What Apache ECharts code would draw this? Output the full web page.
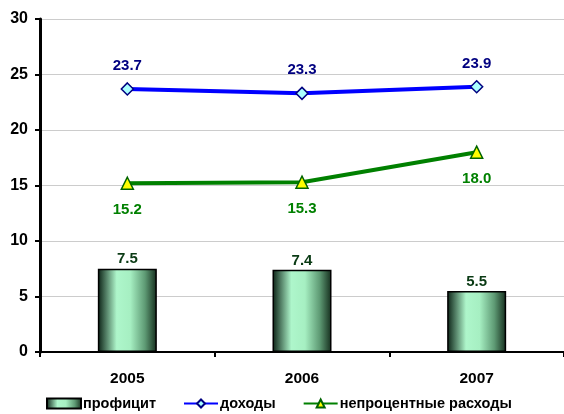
<!DOCTYPE html>
<html>
<head>
<meta charset="utf-8">
<script src="https://cdn.jsdelivr.net/npm/echarts@6/dist/echarts.min.js"></script>
<style>
html,body{margin:0;padding:0;background:#fff;}
#chart{width:564px;height:414px;}
</style>
</head>
<body>
<div id="chart"></div>
<script>
// Budget indicators, % of GDP
var years = ['2005', '2006', '2007'];
var surplus = [7.5, 7.4, 5.5];           // профицит
var revenue = [23.7, 23.3, 23.9];        // доходы
var nonInterestSpend = [15.2, 15.3, 18.0]; // непроцентные расходы
var yTicks = [0, 5, 10, 15, 20, 25, 30];

var FONT = 'Liberation Sans, Arial, sans-serif';
var chart = echarts.init(document.getElementById('chart'));

var barFill = new echarts.graphic.LinearGradient(0, 0, 1, 0, [
  {offset: 0, color: '#0a2014'},
  {offset: 0.32, color: '#aef6cb'},
  {offset: 0.55, color: '#a6efc2'},
  {offset: 0.8, color: '#5e9a74'},
  {offset: 1, color: '#142c1c'}
]);

chart.setOption({
  animation: false,
  backgroundColor: '#ffffff',
  grid: {left: 40, right: 0, top: 19, bottom: 62},
  legend: {
    bottom: -2,
    left: 41,
    itemWidth: 34,
    itemHeight: 10,
    itemGap: 27,
    textStyle: {fontFamily: FONT, fontWeight: 'bold', fontSize: 14.5, color: '#000', padding: [0, 0, 0, -3]},
    data: [
      {name: 'профицит', icon: 'rect'},
      {name: 'доходы'},
      {name: 'непроцентные расходы'}
    ]
  },
  xAxis: {
    type: 'category',
    data: years,
    axisLine: {lineStyle: {color: '#000', width: 2}},
    axisTick: {show: true, length: 5, lineStyle: {color: '#000', width: 2}},
    axisLabel: {margin: 19, fontFamily: FONT, fontWeight: 'bold', fontSize: 15.5, color: '#000'}
  },
  yAxis: {
    type: 'value',
    min: yTicks[0],
    max: yTicks[yTicks.length - 1],
    interval: 5,
    axisLine: {show: true, lineStyle: {color: '#000', width: 3}},
    axisTick: {show: true, length: 5, lineStyle: {color: '#000', width: 2}},
    axisLabel: {margin: 12, fontFamily: FONT, fontWeight: 'bold', fontSize: 16, color: '#000'},
    splitLine: {lineStyle: {color: '#cccccc', width: 1}}
  },
  series: [
    {
      name: 'профицит',
      type: 'bar',
      data: surplus,
      barWidth: 59,
      itemStyle: {color: barFill, borderColor: '#000', borderWidth: 1.5},
      label: {
        show: true, position: 'top', distance: 2,
        fontFamily: FONT, fontWeight: 'bold', fontSize: 15, color: '#0a3a14',
        formatter: function (p) { return p.value.toFixed(1); }
      },
      z: 2
    },
    {
      name: 'доходы',
      type: 'line',
      data: revenue,
      symbol: 'diamond',
      symbolSize: 12,
      lineStyle: {color: '#0000ff', width: 4},
      itemStyle: {color: '#aaffff', borderColor: '#000080', borderWidth: 1.5},
      label: {
        show: true, position: 'top', distance: 9,
        fontFamily: FONT, fontWeight: 'bold', fontSize: 15, color: '#000080',
        formatter: function (p) { return p.value.toFixed(1); }
      },
      z: 4
    },
    {
      name: 'непроцентные расходы',
      type: 'line',
      data: nonInterestSpend,
      symbol: 'triangle',
      symbolSize: 12,
      lineStyle: {color: '#008000', width: 4},
      itemStyle: {color: '#ffff00', borderColor: '#006400', borderWidth: 1.5},
      label: {
        show: true, position: 'bottom', distance: 12,
        fontFamily: FONT, fontWeight: 'bold', fontSize: 15, color: '#008000',
        formatter: function (p) { return p.value.toFixed(1); }
      },
      z: 3
    }
  ]
});
</script>
</body>
</html>
